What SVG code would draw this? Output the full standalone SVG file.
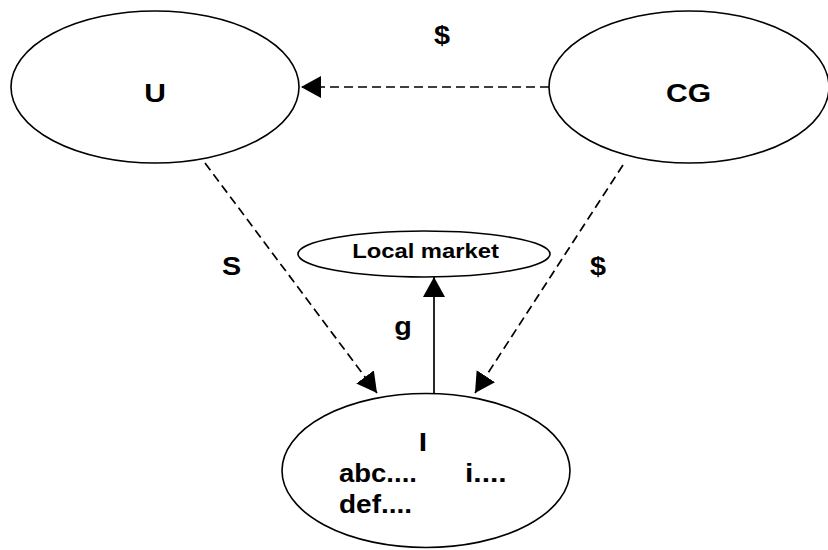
<svg xmlns="http://www.w3.org/2000/svg" width="828" height="550" viewBox="0 0 828 550">
<style>
.node{fill:#fff;stroke:#000;stroke-width:1.6}
.t{font-family:"Liberation Sans",Arial,sans-serif;font-weight:bold;font-size:25px;fill:#000}
.m{text-anchor:middle}
.c{stroke:#000;stroke-width:1.7;fill:none}
.d{stroke-dasharray:9 5}
</style>
<defs>
<marker id="ah" markerUnits="userSpaceOnUse" markerWidth="21" markerHeight="22" refX="20" refY="11" orient="auto">
<path d="M0,0 L20,11 L0,22 z" fill="#000"/>
</marker>
</defs>
<rect width="828" height="550" fill="#fff"/>
<g id="node-U">
<ellipse class="node" cx="155" cy="87" rx="144" ry="76"/>
<text class="t m" transform="translate(155,102) scale(1.2,1)">U</text>
</g>
<g id="node-CG">
<ellipse class="node" cx="689" cy="87" rx="140" ry="76"/>
<text class="t m" transform="translate(688.5,102) scale(1.2,1)">CG</text>
</g>
<g id="node-LocalMarket">
<ellipse class="node" cx="424" cy="254" rx="126" ry="23"/>
<text class="t m" style="font-size:20px" transform="translate(425.5,258) scale(1.19,1)">Local market</text>
</g>
<g id="node-I">
<ellipse class="node" cx="426" cy="470.5" rx="144" ry="77"/>
<text class="t m" transform="translate(423,451) scale(1.2,1)">I</text>
<text class="t" transform="translate(339,482) scale(1.1,1)">abc....</text>
<text class="t" transform="translate(465,482) scale(1.2,1)">i....</text>
<text class="t" transform="translate(339,513) scale(1.12,1)">def....</text>
</g>
<g id="connectors">
<line class="c d" x1="549" y1="87" x2="301" y2="87" marker-end="url(#ah)"/>
<line class="c d" x1="205" y1="163" x2="377" y2="393" marker-end="url(#ah)"/>
<line class="c d" x1="623" y1="165" x2="475" y2="393" marker-end="url(#ah)"/>
<line class="c" x1="434" y1="394" x2="434" y2="277" marker-end="url(#ah)"/>
<text class="t m" transform="translate(442,44) scale(1.15,1)">$</text>
<text class="t m" transform="translate(231.5,275) scale(1.15,1)">S</text>
<text class="t m" transform="translate(598,275) scale(1.15,1)">$</text>
<text class="t m" transform="translate(403,335) scale(1.15,1)">g</text>
</g>
</svg>
